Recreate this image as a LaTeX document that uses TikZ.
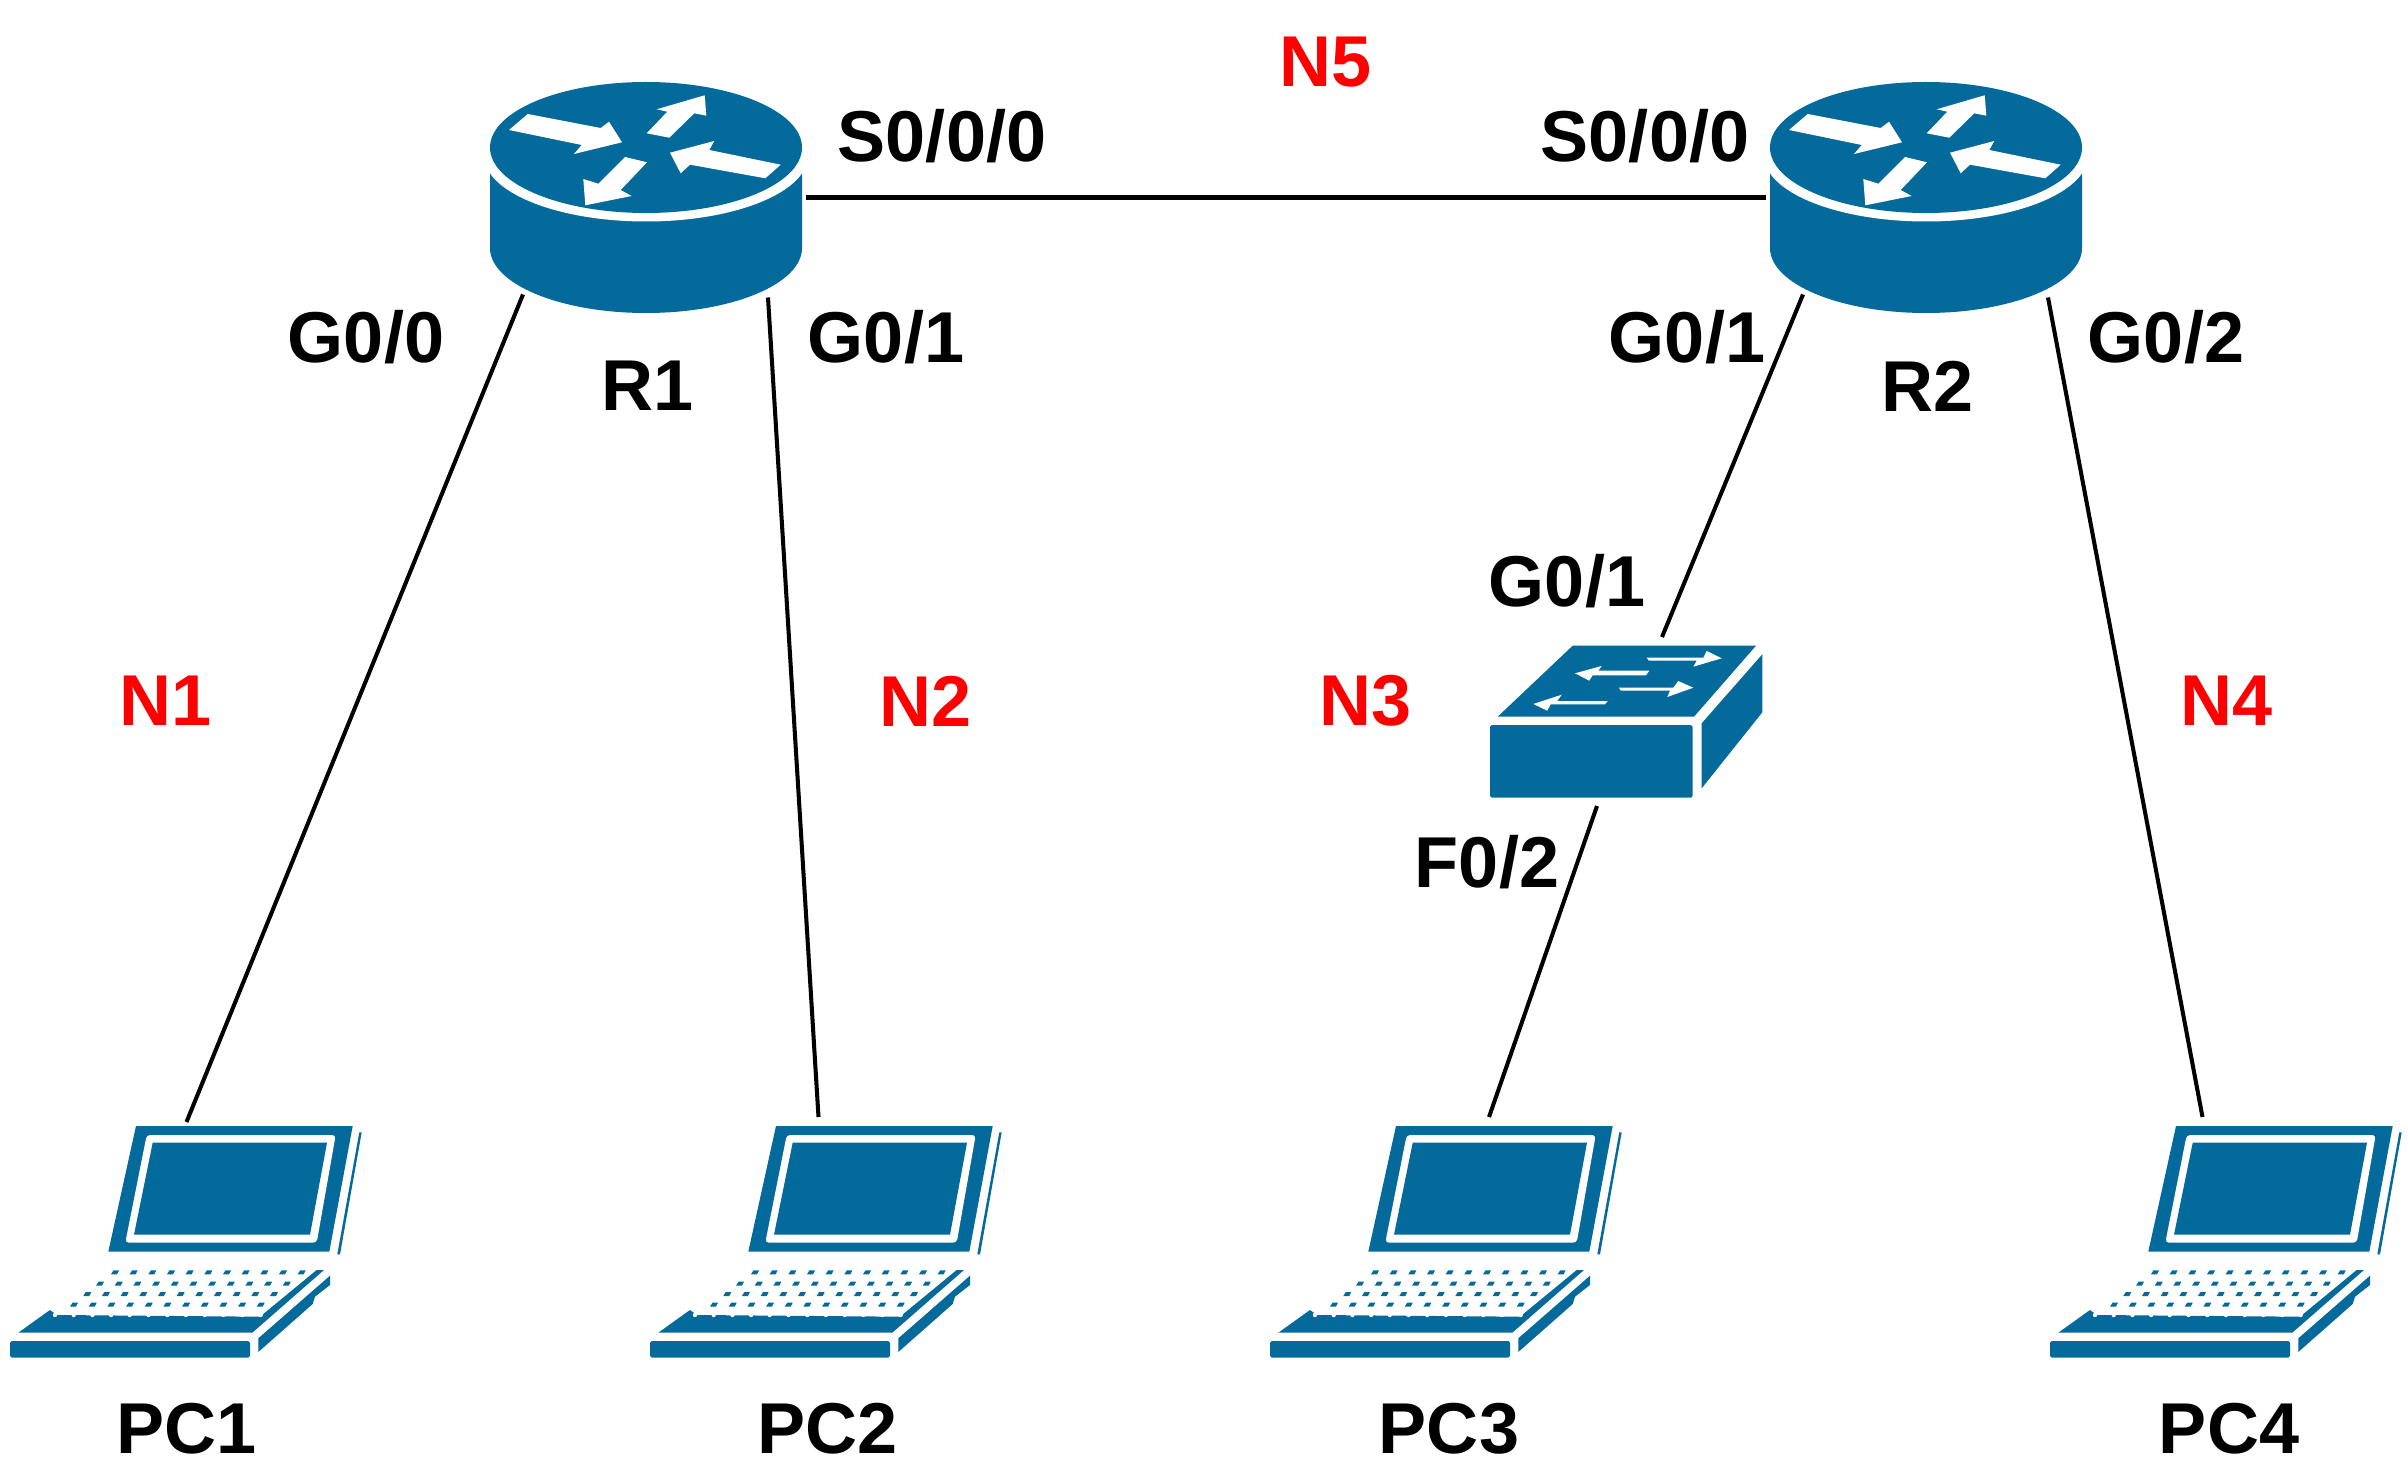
\documentclass[tikz,border=0pt]{standalone}
\usepackage{fontspec}
\setmainfont{Liberation Sans}
\usepackage{xcolor}
\usetikzlibrary{positioning}
\definecolor{ciscoblue}{HTML}{04699B}
\tikzstyle{devlabel} = [font=\fontsize{41}{41}\selectfont\bfseries, text=black, inner sep=0pt]
\tikzstyle{netlabel} = [devlabel, text=red]
\tikzstyle{link} = [line width=2.3pt, black]
\tikzstyle{icon} = [fill=ciscoblue, draw=none]
\tikzstyle{cutout} = [fill=white, draw=none]

\tikzset{
  router/.pic={
    % body, white ring, top
    \fill [icon] (-156,-50) -- (-156,50.5) arc [start angle=180, end angle=0, x radius=156, y radius=65] -- (156,-50) -- cycle;
    \fill [cutout] (0,-42) ellipse [x radius=162, y radius=66];
    \fill [icon] (0,-50) ellipse [x radius=156, y radius=65.5];
    % arrows
    \fill [cutout] (-118.3,-83.5) -- (-137,-67.5) -- (-64.3,-52.5) -- (-72,-43.5) -- (-24,-55.2) -- (-37,-75.8) -- (-45.3,-69.5) -- cycle;
    \fill [cutout] (0.7,-64.2) -- (23.3,-59.8) -- (48.3,-84.2) -- (60.3,-81.8) -- (58.7,-102.2) -- (10.7,-88.2) -- (21.3,-85.8) -- cycle;
    \fill [cutout] (134.7,-32.8) -- (119.3,-19.2) -- (44,-32.8) -- (34.7,-24.2) -- (24,-44.8) -- (68.3,-56.5) -- (63.3,-47.5) -- cycle;
    \fill [cutout] (-21,-40.5) -- (1,-35.2) -- (-25.3,-7.5) -- (-14.3,-1.5) -- (-60.7,7.8) -- (-62.7,-18.5) -- (-47.7,-13.8) -- cycle;
    % link ends
    \coordinate (-w) at (-160,0);
    \coordinate (-e) at (160,0);
    \coordinate (-sw) at (-123,97);
    \coordinate (-se) at (122,100);
  },
  switch/.pic={
    \fill [icon] (82.7,-79.3) -- (266,-79.3) -- (204,-8.3) -- (7.7,-8.3) -- cycle;
    \fill [icon, rounded corners=1] (0,0) rectangle (202.7,72.7);
    \fill [icon] (211.7,-1.7) -- (272.3,-70.7) -- (272.3,-12.7) -- (211.7,63.3) -- cycle;
    \fill [cutout] (156.7,-67.3) -- (213.3,-67.3) -- (216.7,-74) -- (231.7,-66.7) -- (203.3,-58.3) -- (206.7,-64.3) -- (159,-64.3) -- cycle;
    \fill [cutout] (159.3,-54.3) -- (108.3,-54.3) -- (111.7,-59) -- (85,-51.7) -- (99.3,-44.3) -- (102.7,-49.7) -- (156,-49.7) -- cycle;
    \fill [cutout] (129,-37.3) -- (183.3,-37.3) -- (188.3,-44) -- (203.3,-37.3) -- (177.3,-28) -- (180,-34.3) -- (130.7,-34.3) -- cycle;
    \fill [cutout] (117.7,-24) -- (67.3,-24) -- (71.7,-30.3) -- (43.3,-21) -- (57.3,-14.3) -- (60.7,-20.7) -- (115,-20.7) -- cycle;
    \coordinate (-n) at (172,-88);
    \coordinate (-s) at (107,81);
  },
  laptop/.pic={
    % lid
    \fill [icon] (0,0) -- (216.7,0) -- (193.3,125.7) -- (-27.7,125.7) -- cycle;
    \fill [cutout, rounded corners=2] (10.7,9) -- (199.7,9) -- (180.7,116.7) -- (-10.7,116.7) -- cycle;
    \fill [icon] (16.7,16.7) -- (191,16.7) -- (174,108.7) -- (-2,108.7) -- cycle;
    \fill [icon] (223.3,6.3) -- (225.7,6.3) -- (204,128.3) -- (201.3,128.3) -- cycle;
    % deck and keys
    \fill [icon] (-117.7,206.7) -- (116.3,206.7) -- (188,144) -- (180.7,144) -- (124,190.7) -- (-79.3,189) -- (-86,184) -- cycle;
    \foreach \keyrow/\keyx/\keyy in {0/-21/146.3, 1/-36/157.7, 2/-48.7/168, 3/-62/178.7} {
      \foreach \keyn in {0,...,10} {
        \fill [icon, shift={({\keyx+\keyn*18.67},\keyy)}] (-4,2) -- (-1.5,-2) -- (4,-2) -- (2,2) -- cycle;
      }
    }
    \foreach \keyn in {0,...,11} {
      \fill [cutout] ({-81+\keyn*18.7},189) circle [radius=2.2];
    }
    % front and side
    \fill [icon, rounded corners=1] (-126,215) rectangle (114,231.7);
    \fill [icon] (122.3,212.3) -- (194,149.7) -- (194,159) -- (179,170.7) -- (176.7,178) -- (122.3,226) -- cycle;
  }
}

\begin{document}
\begin{tikzpicture}[x=0.02cm, y=-0.02cm]
  \useasboundingbox (0,0) rectangle (2408,1476);

  % Devices
  \pic (R1) at (646,197.5) {router};
  \pic (R2) at (1926,197.5) {router};
  \pic (SW) at (1490,725) {switch};
  \pic (PC1) at (136,1126) {laptop};
  \pic (PC2) at (776,1126) {laptop};
  \pic (PC3) at (1396,1126) {laptop};
  \pic (PC4) at (2176,1126) {laptop};

  % Link ends on the laptops
  \coordinate (PC1top) at (186.5,1122);
  \coordinate (PC2top) at (818.5,1117);
  \coordinate (PC3top) at (1489,1117);
  \coordinate (PC4top) at (2202.5,1117);

  % Device names
  \node (nameR1) [devlabel] at (648,386) {R1};
  \node (nameR2) [devlabel] at (1928,386) {R2};
  \node (namePC1) [devlabel] at (187,1429) {PC1};
  \node (namePC2) [devlabel] at (828,1429) {PC2};
  \node (namePC3) [devlabel] at (1449,1429) {PC3};
  \node (namePC4) [devlabel] at (2229,1429) {PC4};

  % Interfaces
  \node (portA) [devlabel] at (942,136.5) {S0/0/0};
  \node (portB) [devlabel] at (1645,136.5) {S0/0/0};
  \node (portC) [devlabel] at (366,337) {G0/0};
  \node (portD) [devlabel] at (886,337) {G0/1};
  \node (portE) [devlabel] at (1687,337) {G0/1};
  \node (portF) [devlabel] at (2166,337) {G0/2};
  \node (portG) [devlabel] at (1567,581) {G0/1};
  \node (portH) [devlabel] at (1487,862) {F0/2};

  % Networks
  \node (netA) [netlabel] at (166,701) {N1};
  \node (netB) [netlabel] at (926,701) {N2};
  \node (netC) [netlabel] at (1366,701) {N3};
  \node (netD) [netlabel] at (2227,701) {N4};
  \node (netE) [netlabel] at (1326,62) {N5};

  % Links
  \draw [link] (R1-e) -- (R2-w);
  \draw [link] (R1-sw) -- (PC1top);
  \draw [link] (R1-se) -- (PC2top);
  \draw [link] (R2-sw) -- (SW-n);
  \draw [link] (SW-s) -- (PC3top);
  \draw [link] (R2-se) -- (PC4top);

\end{tikzpicture}
\end{document}
